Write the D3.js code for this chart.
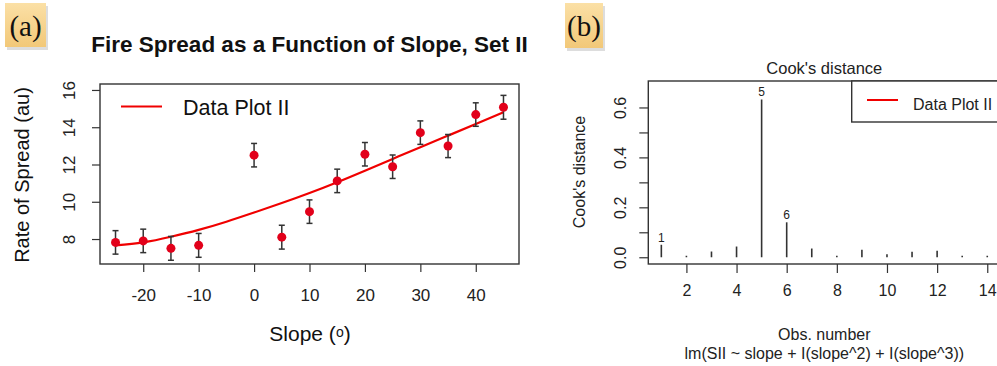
<!DOCTYPE html>
<html>
<head>
<meta charset="utf-8">
<script src="https://cdn.jsdelivr.net/npm/d3@7"></script>
<style>
  body { margin: 0; background: #fff; }
  text { font-family: Arial, "Liberation Sans", sans-serif; fill: #222; }
</style>
</head>
<body>
<svg id="fig"></svg>
<script>
// panel (a) data
var slopes    = [-25, -20, -15, -10, 0, 5, 10, 15, 20, 25, 30, 35, 40, 45];
var spread    = [7.82, 7.9, 7.5, 7.66, 12.5, 8.1, 9.47, 11.12, 12.55, 11.88, 13.71, 12.99, 14.68, 15.07];
var spreadErr = [0.63, 0.63, 0.64, 0.64, 0.63, 0.64, 0.63, 0.63, 0.63, 0.63, 0.63, 0.62, 0.63, 0.64];
var fitX      = [-25, -20, -15, -10, -5, 0, 5, 10, 15, 20, 25, 30, 35, 40, 45];
var fitY      = [7.66, 7.82, 8.12, 8.49, 8.93, 9.42, 9.93, 10.47, 11.05, 11.67, 12.3, 12.93, 13.55, 14.17, 14.8];
var xTicksA   = [-20, -10, 0, 10, 20, 30, 40];
var yTicksA   = [8, 10, 12, 14, 16];

// panel (b) data
var obs       = [1, 2, 3, 4, 5, 6, 7, 8, 9, 10, 11, 12, 13, 14];
var cooks     = [0.05, 0.002, 0.023, 0.043, 0.632, 0.14, 0.035, 0.002, 0.03, 0.012, 0.022, 0.026, 0.004, 0.003];
var xTicksB   = [2, 4, 6, 8, 10, 12, 14];
var yTicksB   = [0, 0.1, 0.2, 0.3, 0.4, 0.5, 0.6];

var W = 997, H = 366;
var svg = d3.select("#fig").attr("width", W).attr("height", H);

// little tan label boxes "(a)" / "(b)"
var defs = svg.append("defs");
var grad = defs.append("linearGradient").attr("id","tan").attr("x1",0).attr("y1",0).attr("x2",0).attr("y2",1);
grad.append("stop").attr("offset","0%").attr("stop-color","#fbe0a6");
grad.append("stop").attr("offset","100%").attr("stop-color","#f2c878");

function tag(x, y, w, h, label){
	svg.append("rect").attr("x",x+2).attr("y",y+3).attr("width",w).attr("height",h).attr("fill","#ddd");
	svg.append("rect").attr("x",x).attr("y",y).attr("width",w).attr("height",h).attr("fill","url(#tan)");
	svg.append("text").attr("x",x+w/2).attr("y",y+33).attr("text-anchor","middle")
	   .style("font-family","'Liberation Serif','Times New Roman',serif").style("font-size","29px").style("fill","#111")
	   .text(label);
}
tag(5, 3, 41, 44, "(a)");
tag(565, 3, 38, 45, "(b)");

// ---------- panel (a) ----------
var xA = d3.scaleLinear().domain([-27.8, 47.8]).range([100, 519]);
var yA = d3.scaleLinear().domain([6.66, 16.32]).range([264, 84]);

var gA = svg.append("g");

gA.append("text").attr("x",309.5).attr("y",52).attr("text-anchor","middle")
  .style("font-size","22.5px").style("font-weight","bold").style("fill","#111")
  .text("Fire Spread as a Function of Slope, Set II");

var axA = gA.append("g").attr("transform","translate(0,264)")
  .call(d3.axisBottom(xA).tickValues(xTicksA).tickSize(8).tickSizeOuter(0).tickPadding(17)
          .tickFormat(function(d){ return String(d); }));
axA.select(".domain").remove();
axA.selectAll("text").style("font-size","17px").style("font-family","Arial, 'Liberation Sans'").attr("fill","#222");

var ayA = gA.append("g").attr("transform","translate(100,0)")
  .call(d3.axisLeft(yA).tickValues(yTicksA).tickSize(8).tickSizeOuter(0));
ayA.select(".domain").remove();
ayA.selectAll("text")
   .attr("transform","rotate(-90)").attr("x",0).attr("y",-25).attr("dy",0)
   .attr("text-anchor","middle").style("font-size","17px").style("font-family","Arial, 'Liberation Sans'").attr("fill","#222");
gA.selectAll(".tick line").attr("stroke","#333").attr("stroke-width",1.2);

// box
gA.append("rect").attr("x",100).attr("y",84).attr("width",419).attr("height",180)
  .attr("fill","none").attr("stroke","#333").attr("stroke-width",1.4);

// fitted curve
var fit = fitX.map(function(d,i){ return [d, fitY[i]]; });
gA.append("path").datum(fit)
  .attr("fill","none").attr("stroke","#f00000").attr("stroke-width",2.2)
  .attr("d", d3.line().x(function(d){return xA(d[0]);}).y(function(d){return yA(d[1]);}).curve(d3.curveNatural));

// error bars
var pts = slopes.map(function(d,i){ return {x:d, y:spread[i], e:spreadErr[i]}; });
var eb = gA.selectAll(".eb").data(pts).enter().append("g").attr("class","eb")
  .attr("stroke","#333").attr("stroke-width",1.5);
eb.append("line")
  .attr("x1",function(d){return xA(d.x);}).attr("x2",function(d){return xA(d.x);})
  .attr("y1",function(d){return yA(d.y+d.e);}).attr("y2",function(d){return yA(d.y-d.e);});
eb.append("line")
  .attr("x1",function(d){return xA(d.x)-3;}).attr("x2",function(d){return xA(d.x)+3;})
  .attr("y1",function(d){return yA(d.y+d.e);}).attr("y2",function(d){return yA(d.y+d.e);});
eb.append("line")
  .attr("x1",function(d){return xA(d.x)-3;}).attr("x2",function(d){return xA(d.x)+3;})
  .attr("y1",function(d){return yA(d.y-d.e);}).attr("y2",function(d){return yA(d.y-d.e);});

gA.selectAll(".pt").data(pts).enter().append("circle").attr("class","pt")
  .attr("cx",function(d){return xA(d.x);}).attr("cy",function(d){return yA(d.y);})
  .attr("r",4.5).attr("fill","#e2001a");

// legend
gA.append("line").attr("x1",121).attr("x2",162).attr("y1",106.5).attr("y2",106.5)
  .attr("stroke","#f00000").attr("stroke-width",2.2);
gA.append("text").attr("x",183).attr("y",114.5).style("font-size","21.5px").style("fill","#111").text("Data Plot II");

// axis titles
gA.append("text").attr("transform","translate(29,175) rotate(-90)").attr("text-anchor","middle")
  .style("font-size","20px").style("fill","#111").text("Rate of Spread (au)");
var xl = gA.append("text").attr("x",310).attr("y",341).attr("text-anchor","middle")
  .style("font-size","21px").style("fill","#111");
xl.append("tspan").text("Slope (");
xl.append("tspan").attr("dy",-4).style("font-size","14px").text("o");
xl.append("tspan").attr("dy",4).text(")");

// ---------- panel (b) ----------
var xB = d3.scaleLinear().domain([0.48, 14.52]).range([648.3, 1000.3]);
var yB = d3.scaleLinear().domain([-0.027, 0.706]).range([264, 81]);

var gB = svg.append("g");

gB.append("text").attr("x",824.3).attr("y",74).attr("text-anchor","middle")
  .style("font-size","16.5px").text("Cook's distance");

var axB = gB.append("g").attr("transform","translate(0,264)")
  .call(d3.axisBottom(xB).tickValues(xTicksB).tickSize(9).tickSizeOuter(0).tickPadding(12));
axB.select(".domain").remove();
axB.selectAll("text").style("font-size","16px").style("font-family","Arial, 'Liberation Sans'").attr("fill","#222");

var ayB = gB.append("g").attr("transform","translate(648.3,0)")
  .call(d3.axisLeft(yB).tickValues(yTicksB).tickSize(9).tickSizeOuter(0)
          .tickFormat(function(d,i){ return i % 2 === 0 ? d3.format(".1f")(d) : ""; }));
ayB.select(".domain").remove();
ayB.selectAll("text")
   .attr("transform","rotate(-90)").attr("x",0).attr("y",-22).attr("dy",0)
   .attr("text-anchor","middle").style("font-size","16px").style("font-family","Arial, 'Liberation Sans'").attr("fill","#222");
gB.selectAll(".tick line").attr("stroke","#333").attr("stroke-width",1.2);

gB.append("rect").attr("x",648.3).attr("y",81).attr("width",352).attr("height",183)
  .attr("fill","none").attr("stroke","#333").attr("stroke-width",1.4);

// type = "h" spikes
var ck = obs.map(function(d,i){ return {i:d, v:cooks[i]}; });
gB.selectAll(".spk").data(ck).enter().append("line").attr("class","spk")
  .attr("x1",function(d){return xB(d.i);}).attr("x2",function(d){return xB(d.i);})
  .attr("y1",yB(0)).attr("y2",function(d){return Math.min(yB(d.v), yB(0)-1.5);})
  .attr("stroke","#333").attr("stroke-width",1.6);

// label the three largest
var top3 = ck.slice().sort(function(a,b){ return b.v - a.v; }).slice(0,3);
gB.selectAll(".lbl").data(top3).enter().append("text").attr("class","lbl")
  .attr("x",function(d){return xB(d.i);}).attr("y",function(d){return yB(d.v)-3;})
  .attr("text-anchor","middle").style("font-size","12px").text(function(d){return d.i;});

// legend (topright, boxed)
gB.append("rect").attr("x",851.7).attr("y",81).attr("width",148.6).attr("height",41)
  .attr("fill","#fff").attr("stroke","#333").attr("stroke-width",1.4);
gB.append("line").attr("x1",867).attr("x2",898).attr("y1",100).attr("y2",100)
  .attr("stroke","#f00000").attr("stroke-width",2);
gB.append("text").attr("x",913).attr("y",110).style("font-size","16px").text("Data Plot II");

// axis titles
gB.append("text").attr("transform","translate(585,172) rotate(-90)").attr("text-anchor","middle")
  .style("font-size","16px").text("Cook's distance");
gB.append("text").attr("x",824.3).attr("y",340).attr("text-anchor","middle")
  .style("font-size","16px").text("Obs. number");
gB.append("text").attr("x",824.3).attr("y",359).attr("text-anchor","middle")
  .style("font-size","16px").text("lm(SII ~ slope + I(slope^2) + I(slope^3))");
</script>
</body>
</html>
